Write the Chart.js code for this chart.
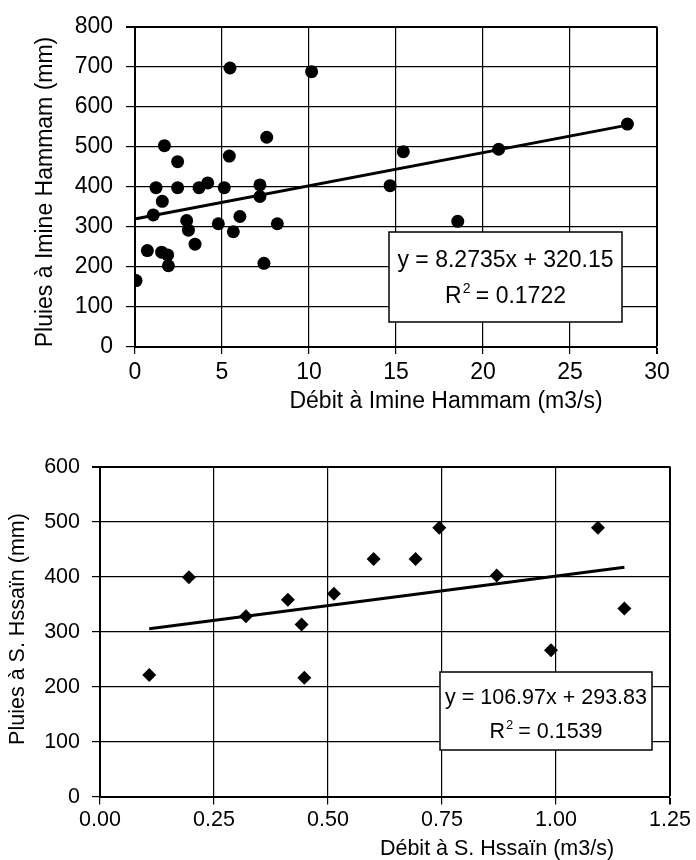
<!DOCTYPE html>
<html>
<head>
<meta charset="utf-8">
<script src="https://cdn.jsdelivr.net/npm/chart.js@4"></script>
<style>
  body { margin: 0; background: #fff; }
  .box { position: absolute; left: 0; width: 696px; }
  #top-box { top: 0; height: 420px; }
  #bottom-box { top: 420px; height: 440px; }
</style>
</head>
<body>
<div class="box" id="top-box"><canvas id="imine-chart"></canvas></div>
<div class="box" id="bottom-box"><canvas id="hssain-chart"></canvas></div>
<script>
// Imine Hammam - débit (m3/s) / pluies (mm)
const imineFlow = [0.06, 0.71, 1.05, 1.21, 1.53, 1.57, 1.69, 1.88, 1.92, 2.45, 2.45, 2.97, 3.07, 3.45, 3.68, 4.18, 4.79,
    5.13, 5.42, 5.46, 5.65, 6.03, 7.18, 7.18, 7.41, 7.57, 8.18, 10.15, 14.66, 15.42, 18.55, 20.9, 28.3];
const imineRain = [166, 241, 330, 398, 237, 364, 503, 230, 203, 463, 398, 316, 292, 257, 398, 410, 308,
    398, 477, 697, 288, 326, 405, 376, 209, 524, 308, 688, 403, 488, 314, 494, 557];
const imineXTicks = [0, 5, 10, 15, 20, 25, 30];
const imineYTicks = [0, 100, 200, 300, 400, 500, 600, 700, 800];
const imineFit = [8.2735, 320.15, 0.1722]; // slope, intercept, R2

// S. Hssaïn - débit (m3/s) / pluies (mm)
const hssainFlow = [0.108, 0.195, 0.320, 0.412, 0.442, 0.448, 0.513, 0.600, 0.692, 0.744, 0.870, 0.989, 1.092, 1.150];
const hssainRain = [221, 399, 328, 358, 313, 216, 369, 432, 432, 489, 402, 266, 489, 342];
const hssainXTicks = [0, 0.25, 0.5, 0.75, 1, 1.25];
const hssainYTicks = [0, 100, 200, 300, 400, 500, 600];
const hssainFit = [106.97, 293.83, 0.1539];

const FONT = "'Liberation Sans', Arial, sans-serif";

// axis titles + trendline label box
const annotate = {
    id: 'annotate',
    afterDraw(chart, args, o) {
        const ctx = chart.ctx;
        ctx.save();
        ctx.fillStyle = '#000';
        ctx.font = o.size + 'px ' + FONT;
        ctx.textAlign = 'center';
        ctx.textBaseline = 'alphabetic';
        ctx.fillText(o.xTitle, o.xTitleAt[0], o.xTitleAt[1]);

        ctx.save();
        ctx.translate(o.yTitleAt[0], o.yTitleAt[1]);
        ctx.rotate(-Math.PI / 2);
        ctx.textBaseline = 'middle';
        ctx.fillText(o.yTitle, 0, 0);
        ctx.restore();

        const b = o.box;
        ctx.fillStyle = '#fff';
        ctx.fillRect(b[0], b[1], b[2], b[3]);
        ctx.strokeStyle = '#000';
        ctx.lineWidth = 1.5;
        ctx.strokeRect(b[0], b[1], b[2], b[3]);

        const cx = b[0] + b[2] / 2;
        ctx.fillStyle = '#000';
        ctx.textAlign = 'left';
        const line1 = 'y = ' + o.fit[0] + 'x + ' + o.fit[1];
        ctx.fillText(line1, cx - ctx.measureText(line1).width / 2, o.lines[0]);

        const rest = ' = ' + o.fit[2];
        const wR = ctx.measureText('R').width;
        const wRest = ctx.measureText(rest).width;
        ctx.font = Math.round(o.size * 0.62) + 'px ' + FONT;
        const w2 = ctx.measureText('2').width;
        let x = cx - (wR + w2 + wRest) / 2;
        ctx.font = o.size + 'px ' + FONT;
        ctx.fillText('R', x, o.lines[1]);
        x += wR;
        ctx.font = Math.round(o.size * 0.62) + 'px ' + FONT;
        ctx.fillText('2', x + 1, o.lines[1] - o.size * 0.42);
        x += w2;
        ctx.font = o.size + 'px ' + FONT;
        ctx.fillText(rest, x, o.lines[1]);
        ctx.restore();
    }
};

function buildChart(canvasId, o) {
    const points = o.flow.map((x, i) => ({ x: x, y: o.rain[i] }));
    const x0 = Math.min(...o.flow), x1 = Math.max(...o.flow);
    const trend = [x0, x1].map(x => ({ x: x, y: o.fit[0] * x + o.fit[1] }));
    const xmax = o.xTicks[o.xTicks.length - 1];
    const ymax = o.yTicks[o.yTicks.length - 1];
    const font = { family: FONT, size: o.size };

    return new Chart(document.getElementById(canvasId), {
        type: 'scatter',
        data: {
            datasets: [{
                data: points,
                pointStyle: o.marker,
                pointRadius: o.markerSize,
                pointHoverRadius: o.markerSize,
                backgroundColor: '#000',
                borderColor: '#000',
                borderWidth: 0
            }, {
                type: 'line',
                data: trend,
                borderColor: '#000',
                borderWidth: 3,
                pointRadius: 0,
                fill: false
            }]
        },
        options: {
            animation: false,
            responsive: true,
            maintainAspectRatio: false,
            layout: { padding: { top: o.padTop, right: o.padRight, left: 0, bottom: 0 } },
            plugins: {
                legend: { display: false },
                tooltip: { enabled: false },
                annotate: o.notes
            },
            scales: {
                x: {
                    type: 'linear',
                    min: o.xTicks[0],
                    max: xmax,
                    afterBuildTicks: s => { s.ticks = o.xTicks.map(v => ({ value: v })); },
                    afterFit: s => { s.height = o.xHeight; },
                    grid: {
                        color: '#000',
                        lineWidth: c => (c.tick && c.tick.value === xmax ? 2 : 1.2),
                        tickLength: o.xTickLen
                    },
                    border: { color: '#000', width: 2 },
                    ticks: { color: '#000', font: font, padding: o.xPad, maxRotation: 0, callback: o.xFmt }
                },
                y: {
                    type: 'linear',
                    min: o.yTicks[0],
                    max: ymax,
                    afterBuildTicks: s => { s.ticks = o.yTicks.map(v => ({ value: v })); },
                    afterFit: s => { s.width = o.yWidth; },
                    grid: {
                        color: '#000',
                        lineWidth: c => (c.tick && c.tick.value === ymax ? 2 : 1.2),
                        tickLength: o.yTickLen
                    },
                    border: { color: '#000', width: 2 },
                    ticks: { color: '#000', font: font, padding: o.yPad }
                }
            }
        },
        plugins: [annotate]
    });
}

buildChart('imine-chart', {
    flow: imineFlow, rain: imineRain, fit: imineFit,
    xTicks: imineXTicks, yTicks: imineYTicks,
    marker: 'circle', markerSize: 6.5, size: 23,
    padTop: 17, padRight: 39, xHeight: 73, yWidth: 135,
    xTickLen: 7, xPad: 5, yTickLen: 9, yPad: 13,
    xFmt: v => String(v),
    notes: {
        size: 23,
        xTitle: 'Débit à Imine Hammam (m3/s)', xTitleAt: [446, 408],
        yTitle: 'Pluies à Imine Hammam (mm)', yTitleAt: [46, 192],
        fit: imineFit, box: [389, 232, 233, 90], lines: [267, 303]
    }
});

buildChart('hssain-chart', {
    flow: hssainFlow, rain: hssainRain, fit: hssainFit,
    xTicks: hssainXTicks, yTicks: hssainYTicks,
    marker: 'rectRot', markerSize: 7, size: 21.5,
    padTop: 46.6, padRight: 26, xHeight: 63.4, yWidth: 100,
    xTickLen: 8, xPad: 3, yTickLen: 8, yPad: 12,
    xFmt: v => Number(v).toFixed(2),
    notes: {
        size: 21.5,
        xTitle: 'Débit à S. Hssaïn (m3/s)', xTitleAt: [497, 435],
        yTitle: 'Pluies à S. Hssaïn (mm)', yTitleAt: [18, 209],
        fit: hssainFit, box: [440, 252, 212, 78], lines: [284, 318]
    }
});
</script>
</body>
</html>
